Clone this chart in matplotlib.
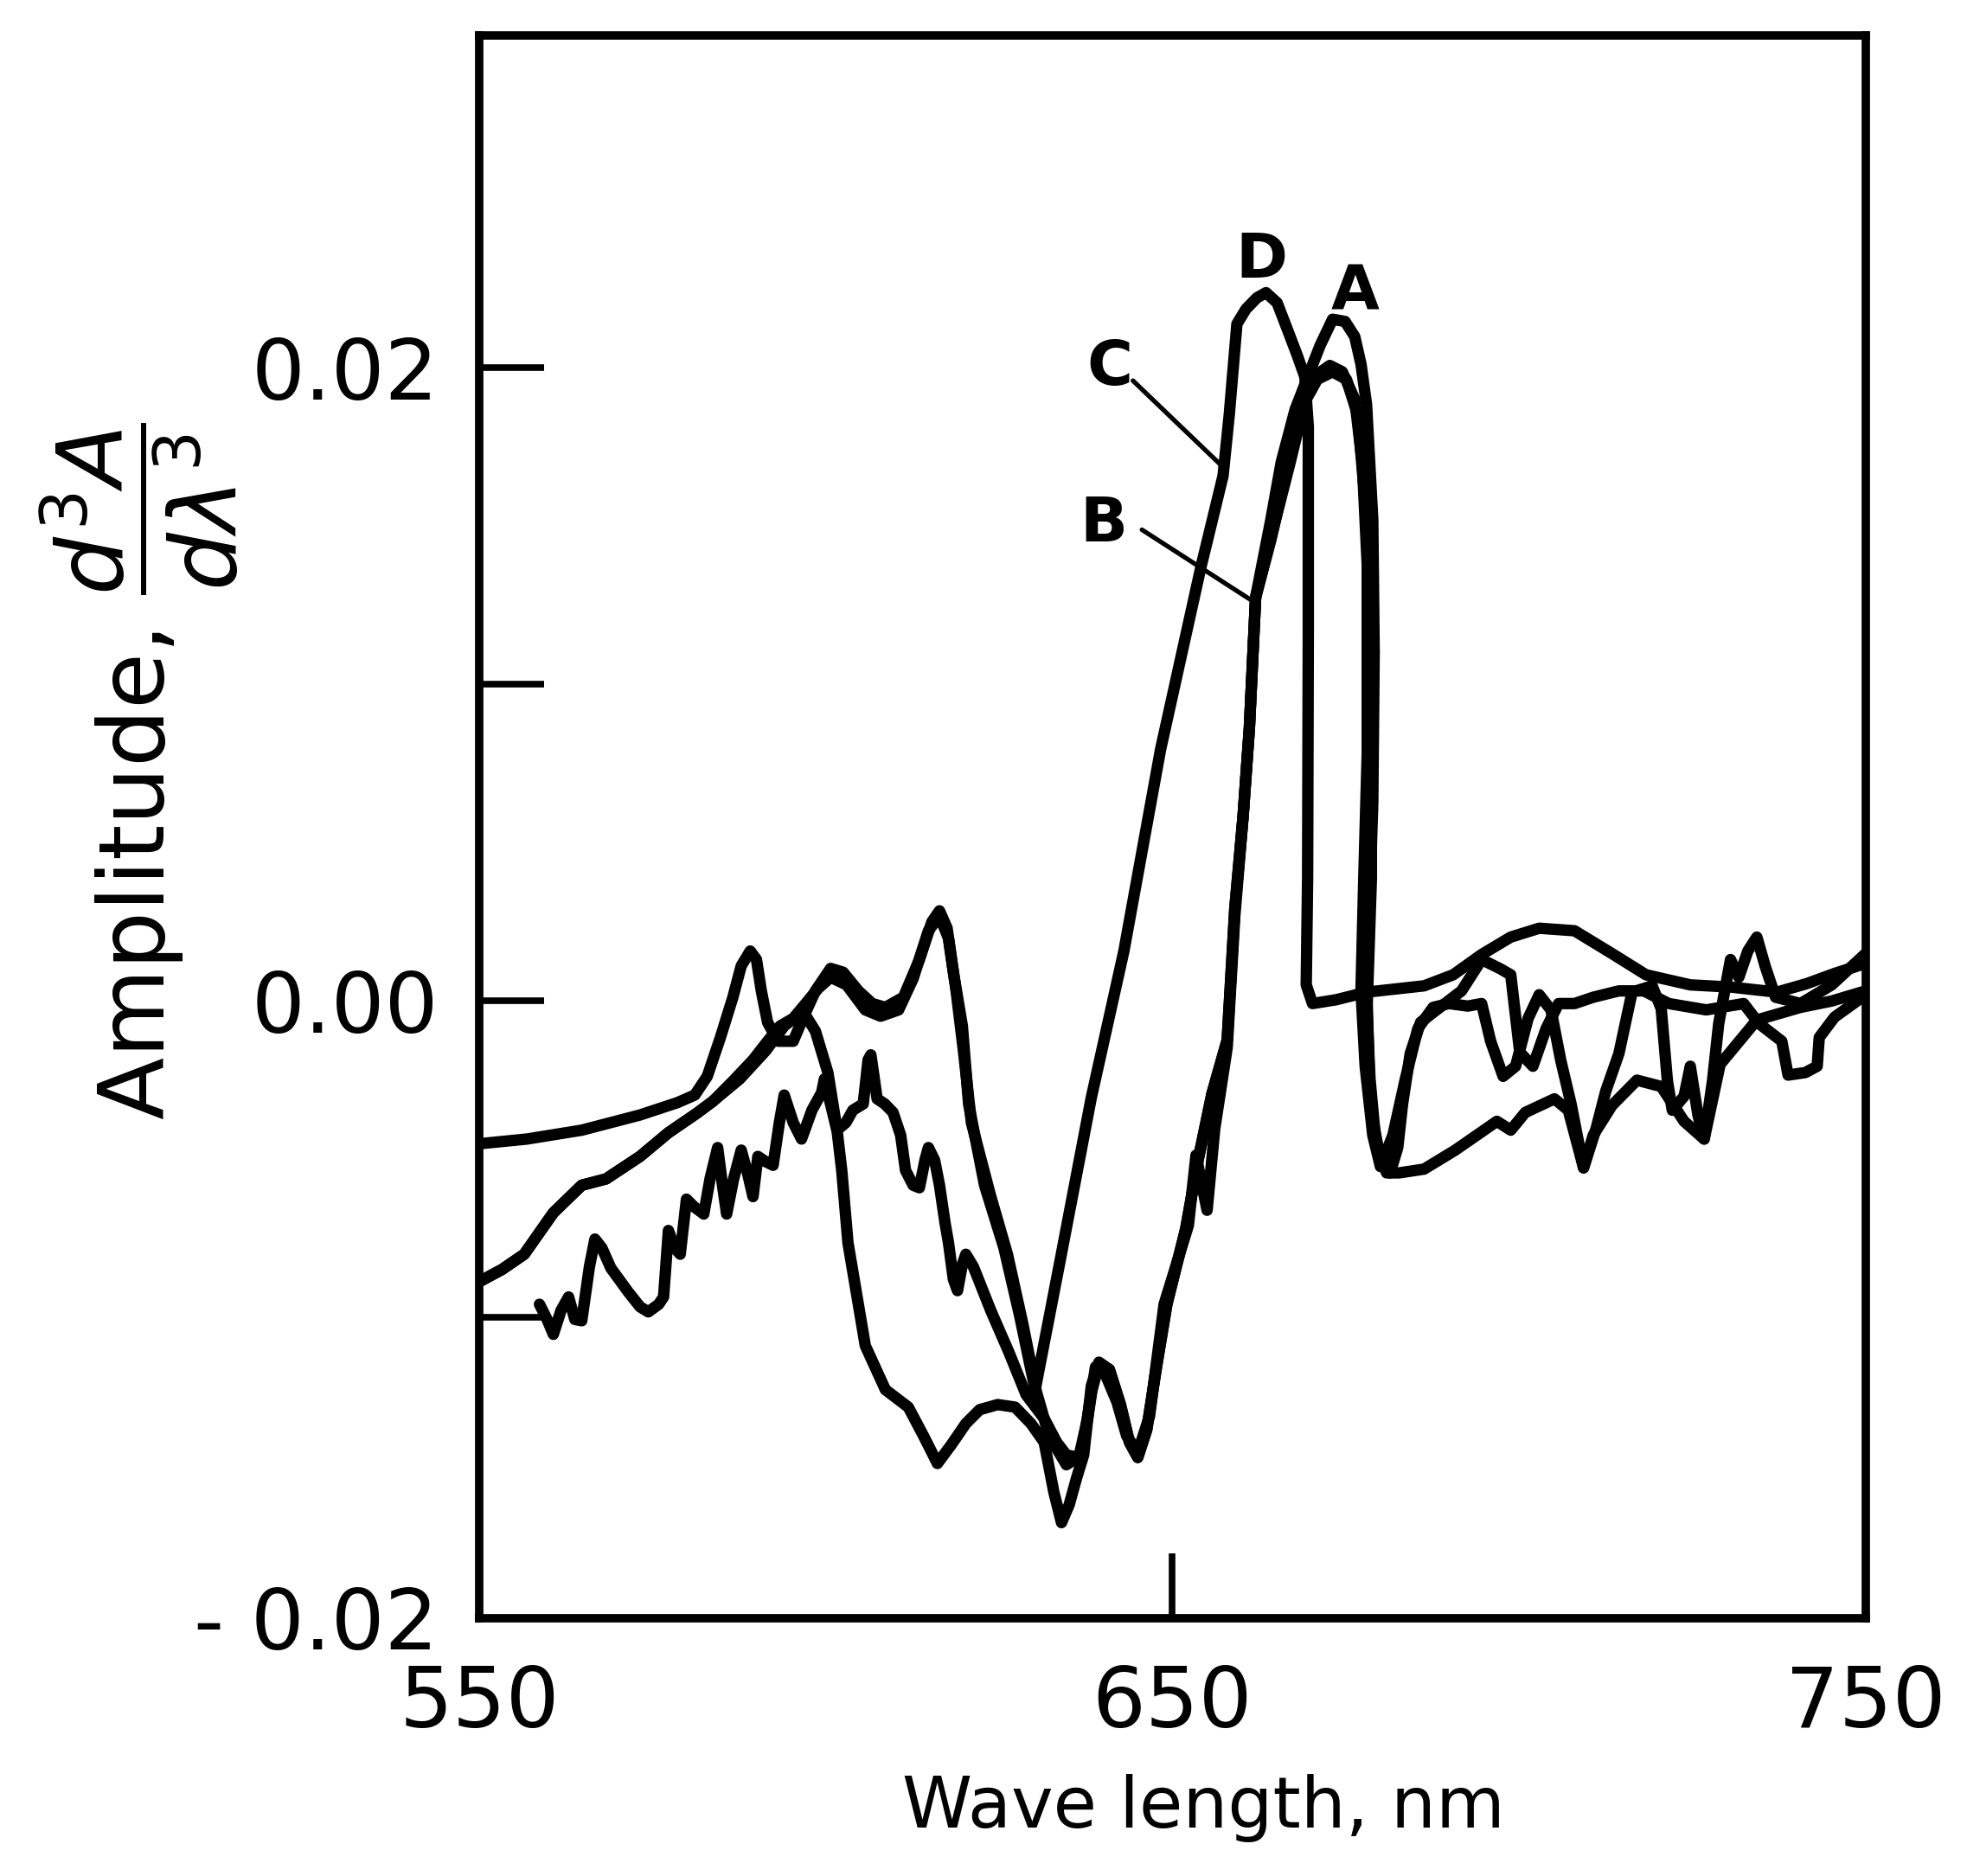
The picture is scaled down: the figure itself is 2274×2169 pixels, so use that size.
import matplotlib
matplotlib.use("Agg")
import matplotlib.pyplot as plt

# (wavelength nm, amplitude d3A/dl3)
curve_D = [(550.0, -0.00451), (556.9, -0.00436), (564.8, -0.00408), (573.2, -0.00360), (578.6, -0.00321),
           (581.1, -0.00297), (582.9, -0.00238), (584.8, -0.00115), (586.6, 0.00012), (587.8, 0.00111),
           (589.1, 0.00158), (590.0, 0.00131), (590.7, 0.00032), (591.6, -0.00067), (593.1, -0.00127),
           (595.3, -0.00127), (596.7, -0.00055), (598.5, 0.00032), (600.7, 0.00103), (602.5, 0.00091),
           (604.7, 0.00032), (606.7, -0.00008), (608.6, -0.00020), (611.2, 0.00012), (613.5, 0.00131),
           (615.3, 0.00250), (616.4, 0.00285), (617.5, 0.00230), (618.4, 0.00091), (619.7, -0.00079),
           (620.6, -0.00325), (622.9, -0.00582), (625.7, -0.00780), (628.0, -0.00998), (630.2, -0.01228),
           (633.8, -0.00820), (638.3, -0.00305), (643.0, 0.00158), (648.3, 0.00796), (654.1, 0.01370),
           (657.3, 0.01659), (658.2, 0.01853), (659.3, 0.02139), (660.6, 0.02186), (662.2, 0.02222),
           (663.5, 0.02238), (665.1, 0.02206), (666.7, 0.02115), (668.0, 0.02040), (669.1, 0.01972),
           (669.6, 0.01814), (669.6, 0.01180), (669.5, 0.00388), (669.3, 0.00051), (670.2, -0.00008),
           (673.6, 0.00004), (678.0, 0.00028), (686.3, 0.00048), (690.5, 0.00083), (694.6, 0.00147),
           (698.8, 0.00202), (702.9, 0.00230), (708.0, 0.00222), (713.4, 0.00150), (718.3, 0.00083),
           (724.7, 0.00051), (730.6, 0.00044), (737.2, 0.00028), (741.5, 0.00055), (745.5, 0.00087),
           (750.0, 0.00119)]

curve_A = [(550.0, -0.00887), (553.3, -0.00848), (556.5, -0.00800), (560.7, -0.00669), (564.8, -0.00582),
           (568.3, -0.00562), (573.2, -0.00491), (577.3, -0.00416), (581.3, -0.00356), (583.7, -0.00317),
           (586.6, -0.00253), (589.5, -0.00186), (591.6, -0.00127), (593.4, -0.00079), (595.3, -0.00055),
           (597.1, -0.00008), (598.9, 0.00040), (600.7, 0.00075), (603.0, 0.00051), (605.7, -0.00028),
           (607.9, -0.00048), (610.5, -0.00028), (612.6, 0.00071), (614.8, 0.00222), (616.4, 0.00269),
           (617.7, 0.00198), (618.8, 0.00032), (619.9, -0.00166), (621.0, -0.00384), (623.7, -0.00610),
           (626.2, -0.00800), (628.4, -0.01018), (630.4, -0.01236), (632.2, -0.01374), (634.7, -0.01465),
           (636.9, -0.01434), (638.3, -0.01236), (639.4, -0.01149), (640.9, -0.01164), (642.5, -0.01275),
           (643.8, -0.01394), (645.0, -0.01442), (646.3, -0.01354), (647.7, -0.01156), (649.2, -0.00958),
           (651.9, -0.00721), (653.7, -0.00503), (655.7, -0.00293), (657.9, -0.00123), (659.0, 0.00293),
           (660.2, 0.00586), (661.1, 0.00863), (662.0, 0.01275), (664.2, 0.01521), (665.7, 0.01703),
           (667.7, 0.01869), (669.6, 0.01976), (671.3, 0.02071), (673.1, 0.02154), (674.9, 0.02147),
           (676.3, 0.02099), (677.2, 0.02012), (678.0, 0.01885), (678.9, 0.01521), (679.1, 0.01101),
           (678.9, 0.00626), (678.3, 0.00230), (678.0, -0.00008), (678.5, -0.00246), (679.4, -0.00463),
           (680.9, -0.00543), (682.7, -0.00543), (686.3, -0.00531), (690.8, -0.00471), (696.8, -0.00380),
           (698.8, -0.00408), (700.9, -0.00352), (705.1, -0.00309), (707.1, -0.00345), (709.3, -0.00527),
           (710.7, -0.00424), (713.4, -0.00330), (717.0, -0.00250), (720.5, -0.00270), (723.8, -0.00380),
           (726.7, -0.00436), (729.0, -0.00200), (734.3, -0.00060), (740.6, -0.00020), (745.1, 0.00000),
           (750.0, 0.00032)]

curve_B = [(550.0, -0.00887), (553.3, -0.00848), (556.5, -0.00800), (560.7, -0.00669), (564.8, -0.00582),
           (568.3, -0.00562), (573.2, -0.00491), (577.3, -0.00416), (581.3, -0.00356), (583.7, -0.00317),
           (587.6, -0.00246), (591.3, -0.00158), (594.0, -0.00079), (596.7, -0.00032), (598.5, -0.00095),
           (600.3, -0.00226), (601.6, -0.00404), (602.3, -0.00535), (603.2, -0.00764), (605.7, -0.01089),
           (608.6, -0.01228), (611.9, -0.01283), (614.1, -0.01374), (616.1, -0.01461), (618.1, -0.01402),
           (620.2, -0.01335), (622.2, -0.01291), (624.8, -0.01275), (627.3, -0.01283), (629.6, -0.01335),
           (631.5, -0.01394), (632.9, -0.01552), (634.0, -0.01648), (635.1, -0.01592), (636.2, -0.01505),
           (637.2, -0.01434), (638.3, -0.01216), (639.4, -0.01141), (640.9, -0.01164), (642.5, -0.01275),
           (643.8, -0.01394), (645.0, -0.01442), (646.3, -0.01354), (647.7, -0.01156), (649.2, -0.00958),
           (651.9, -0.00721), (653.7, -0.00503), (655.7, -0.00293), (657.9, -0.00123), (659.0, 0.00293),
           (660.2, 0.00586), (661.1, 0.00863), (662.0, 0.01275), (664.6, 0.01497), (666.9, 0.01695),
           (669.1, 0.01893), (670.9, 0.01980), (672.7, 0.02008), (674.5, 0.01988), (676.3, 0.01901),
           (677.4, 0.01695), (678.1, 0.01378), (678.1, 0.00784), (677.6, 0.00388), (677.2, 0.00032),
           (677.8, -0.00206), (678.9, -0.00424), (680.0, -0.00523), (681.8, -0.00424), (683.6, -0.00246),
           (685.4, -0.00087), (687.6, -0.00020), (689.9, -0.00008), (692.6, -0.00016), (694.6, -0.00008),
           (695.9, -0.00127), (697.7, -0.00238), (699.5, -0.00206), (701.3, -0.00055), (702.9, 0.00020),
           (704.6, -0.00028), (706.0, -0.00186), (707.5, -0.00325), (709.3, -0.00527), (711.1, -0.00404),
           (712.5, -0.00285), (714.4, -0.00166), (716.3, 0.00028), (719.2, 0.00048), (720.5, -0.00024),
           (721.4, -0.00253), (722.1, -0.00345), (723.8, -0.00301), (724.7, -0.00206), (725.8, -0.00360),
           (726.7, -0.00436), (727.9, -0.00253), (728.8, -0.00071), (730.5, 0.00131), (731.7, 0.00075),
           (733.0, 0.00158), (734.3, 0.00202), (735.5, 0.00110), (737.0, 0.00012), (740.6, -0.00008),
           (745.1, 0.00051), (750.0, 0.00150)]

curve_C = [(558.7, -0.00958), (559.8, -0.01006), (560.7, -0.01053), (561.8, -0.00978), (562.9, -0.00935),
           (563.8, -0.01006), (564.8, -0.01010), (565.9, -0.00840), (566.7, -0.00752), (567.7, -0.00780),
           (569.0, -0.00844), (571.5, -0.00919), (573.2, -0.00966), (574.4, -0.00982), (575.9, -0.00958),
           (576.6, -0.00935), (577.3, -0.00725), (578.2, -0.00780), (579.0, -0.00800), (579.9, -0.00626),
           (581.0, -0.00650), (582.4, -0.00673), (583.3, -0.00562), (584.4, -0.00463), (585.1, -0.00582),
           (585.7, -0.00673), (586.7, -0.00562), (587.8, -0.00471), (588.7, -0.00543), (589.5, -0.00618),
           (590.2, -0.00491), (591.3, -0.00507), (592.4, -0.00519), (593.3, -0.00384), (594.0, -0.00297),
           (595.3, -0.00384), (596.5, -0.00436), (598.0, -0.00345), (599.4, -0.00289), (599.8, -0.00246),
           (601.6, -0.00408), (602.9, -0.00384), (603.9, -0.00345), (605.4, -0.00325), (606.1, -0.00186),
           (606.5, -0.00170), (607.0, -0.00246), (607.4, -0.00309), (608.5, -0.00325), (609.7, -0.00352),
           (610.8, -0.00424), (611.5, -0.00535), (612.6, -0.00582), (613.5, -0.00590), (614.3, -0.00503),
           (614.8, -0.00463), (615.7, -0.00503), (616.4, -0.00582), (617.2, -0.00701), (617.7, -0.00764),
           (618.4, -0.00879), (619.0, -0.00915), (619.7, -0.00832), (620.2, -0.00800), (621.3, -0.00840),
           (623.8, -0.00978), (626.4, -0.01109), (628.9, -0.01244), (631.5, -0.01319), (633.3, -0.01394),
           (634.7, -0.01434), (636.5, -0.01442), (637.8, -0.01315), (638.9, -0.01156), (640.1, -0.01168),
           (642.0, -0.01267), (643.4, -0.01374), (645.0, -0.01426), (646.7, -0.01311), (648.8, -0.00958),
           (652.3, -0.00709), (653.4, -0.00487), (655.0, -0.00661), (656.1, -0.00404), (657.9, -0.00147),
           (659.0, 0.00269), (660.2, 0.00586), (661.1, 0.00863), (662.0, 0.01275), (664.2, 0.01457),
           (666.6, 0.01687), (668.7, 0.01877), (670.9, 0.01964), (673.1, 0.01988), (675.1, 0.01964),
           (676.7, 0.01853), (677.8, 0.01576), (678.7, 0.01101), (678.7, 0.00388), (678.1, -0.00008),
           (678.5, -0.00325), (680.0, -0.00503), (681.4, -0.00543), (682.5, -0.00463), (683.2, -0.00325),
           (684.3, -0.00166), (685.8, -0.00067), (688.1, -0.00028), (691.7, 0.00032), (694.6, 0.00131),
           (697.2, 0.00103), (698.8, 0.00083), (700.1, -0.00162), (702.0, -0.00206), (703.9, -0.00087),
           (705.7, -0.00008), (708.0, -0.00008), (710.7, 0.00012), (714.4, 0.00032), (718.0, 0.00032),
           (721.6, -0.00008), (727.0, -0.00028), (732.4, -0.00008), (734.6, -0.00071), (737.9, -0.00127),
           (738.8, -0.00234), (741.3, -0.00226), (743.0, -0.00206), (743.3, -0.00115), (745.5, -0.00051),
           (750.0, 0.00020)]

curve_labels = ["A", "B", "C", "D"]
label_pos = [(676.3, 0.0224), (640.1, 0.01505), (641.0, 0.0200), (662.8, 0.0234)]
leader_B = [(645.6, 0.01489), (661.9, 0.01259)]
leader_C = [(644.3, 0.0196), (657.3, 0.01687)]

x_ticks = [550, 650, 750]
x_ticklabels = ["550", "650", "750"]
y_ticks = [-0.0195, -0.01, 0.0, 0.01, 0.02]
y_ticklabels = ["- 0.02", "", "0.00", "", "0.02"]

plt.rcParams['font.family'] = ['DejaVu Sans']
plt.rcParams['mathtext.fontset'] = 'dejavusans'

fig = plt.figure(figsize=(22.74, 21.69), dpi=100)
ax = fig.add_axes([0.2436, 0.1374, 0.7049, 0.8436])

for curve in (curve_A, curve_B, curve_C, curve_D):
    xs = [p[0] for p in curve]
    ys = [p[1] for p in curve]
    ax.plot(xs, ys, color='black', lw=9.5, solid_capstyle='round', solid_joinstyle='round')

for seg in (leader_B, leader_C):
    ax.plot([seg[0][0], seg[1][0]], [seg[0][1], seg[1][1]], color='black', lw=3.8,
            solid_capstyle='round')

for lab, (lx, ly) in zip(curve_labels, label_pos):
    ax.text(lx, ly, lab, ha='center', va='center', fontsize=52, fontweight='bold')

ax.set_xlim(550, 750)
ax.set_ylim(-0.0195, 0.0305)
ax.set_xticks(x_ticks)
ax.set_xticklabels(x_ticklabels)
ax.set_yticks(y_ticks)
ax.set_yticklabels(y_ticklabels)
ax.tick_params(axis='both', direction='in', length=54, width=5.5, labelsize=70)
ax.tick_params(axis='x', pad=38)
ax.tick_params(axis='y', pad=34)
for sp in ax.spines.values():
    sp.set_linewidth(7)

fig.text(0.612, 0.036, "Wave length, nm", ha='center', va='center', fontsize=59)
fig.text(0.071, 0.589, r"Amplitude, $\dfrac{d^3A}{d\lambda^3}$", ha='center', va='center',
         rotation=90, fontsize=76)

fig.savefig("out.png", dpi=100)
